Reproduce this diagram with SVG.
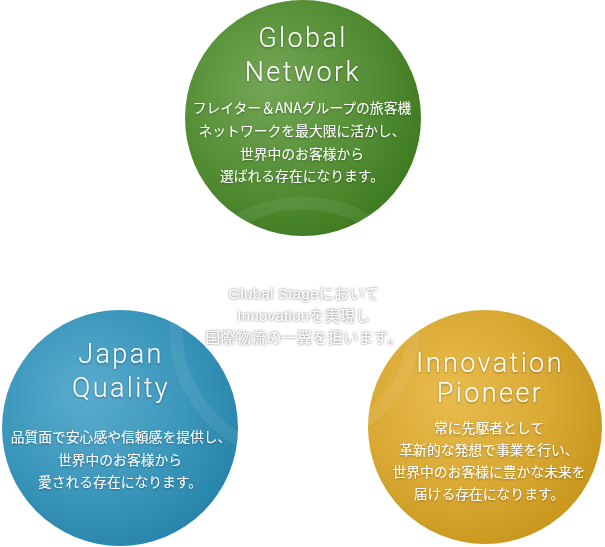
<svg xmlns="http://www.w3.org/2000/svg" width="605" height="547" viewBox="0 0 605 547">
<defs>
  <radialGradient id="gGreen" cx="0.4" cy="0.4" r="0.65" fx="0.35" fy="0.35">
    <stop offset="0" stop-color="#74a655"/>
    <stop offset="0.6" stop-color="#568f37"/>
    <stop offset="1" stop-color="#3e7a20"/>
  </radialGradient>
  <radialGradient id="gBlue" cx="0.4" cy="0.4" r="0.65" fx="0.35" fy="0.35">
    <stop offset="0" stop-color="#5aaccd"/>
    <stop offset="0.6" stop-color="#3c97bc"/>
    <stop offset="1" stop-color="#2784aa"/>
  </radialGradient>
  <radialGradient id="gGold" cx="0.4" cy="0.4" r="0.65" fx="0.35" fy="0.35">
    <stop offset="0" stop-color="#e8bc4e"/>
    <stop offset="0.6" stop-color="#d9a934"/>
    <stop offset="1" stop-color="#c8961c"/>
  </radialGradient>
  <clipPath id="cGreen"><circle cx="303" cy="118" r="118"/></clipPath>
  <clipPath id="cBlue"><circle cx="120" cy="428" r="118"/></clipPath>
  <clipPath id="cGold"><circle cx="485" cy="427" r="117"/></clipPath>
  <filter id="shadow" x="-10%" y="-20%" width="120%" height="140%">
    <feDropShadow dx="0" dy="1" stdDeviation="0.8" flood-color="#000" flood-opacity="0.35"/>
  </filter>
  <filter id="glow" x="-10%" y="-30%" width="120%" height="160%">
    <feGaussianBlur in="SourceAlpha" stdDeviation="1.2" result="b"/>
    <feFlood flood-color="#9a9a9a" flood-opacity="0.85"/>
    <feComposite in2="b" operator="in" result="g"/>
    <feMerge>
      <feMergeNode in="g"/>
      <feMergeNode in="g"/>
      <feMergeNode in="SourceGraphic"/>
    </feMerge>
  </filter>
  <style>
    .title { font-family: Roboto, "Liberation Sans", sans-serif; font-weight: 300; font-size: 27px; letter-spacing: 2.4px; fill: #ffffff; text-anchor: middle; }
    .body { font-family: "Noto Sans CJK JP", "Noto Sans", sans-serif; font-size: 13.8px; fill: #ffffff; text-anchor: middle; }
    .center { font-family: "Liberation Sans", "Noto Sans CJK JP", sans-serif; font-size: 15px; letter-spacing: 0.3px; fill: #ffffff; text-anchor: middle; }
    .ring { fill: none; stroke: #ffffff; stroke-opacity: 0.07; stroke-width: 13; }
  </style>
</defs>

<g id="center-text" filter="url(#glow)">
  <text class="center" x="304" y="299">Global Stageにおいて</text>
  <text class="center" x="304" y="321">Innovationを実現し</text>
  <text class="center" x="304" y="343">国際物流の一翼を担います。</text>
</g>

<g id="global-network">
  <circle cx="303" cy="118" r="118" fill="url(#gGreen)"/>
  <g clip-path="url(#cGreen)"><circle class="ring" cx="303" cy="330" r="127"/></g>
  <g filter="url(#shadow)">
    <text class="title" x="303" y="47">Global</text>
    <text class="title" x="303" y="81">Network</text>
    <text class="body" x="302" y="113">フレイター＆ANAグループの旅客機</text>
    <text class="body" x="302" y="136">ネットワークを最大限に活かし、</text>
    <text class="body" x="302" y="159">世界中のお客様から</text>
    <text class="body" x="302" y="181">選ばれる存在になります。</text>
  </g>
</g>

<g id="japan-quality">
  <circle cx="120" cy="428" r="118" fill="url(#gBlue)"/>
  <g clip-path="url(#cBlue)"><circle class="ring" cx="303" cy="330" r="127"/></g>
  <g filter="url(#shadow)">
    <text class="title" x="121" y="363">Japan</text>
    <text class="title" x="121" y="397">Quality</text>
    <text class="body" x="121" y="442">品質面で安心感や信頼感を提供し、</text>
    <text class="body" x="120" y="465">世界中のお客様から</text>
    <text class="body" x="120" y="487">愛される存在になります。</text>
  </g>
</g>

<g id="innovation-pioneer">
  <circle cx="485" cy="427" r="117" fill="url(#gGold)"/>
  <g clip-path="url(#cGold)"><circle class="ring" cx="303" cy="330" r="110"/></g>
  <g filter="url(#shadow)">
    <text class="title" x="490" y="372">Innovation</text>
    <text class="title" x="490" y="402">Pioneer</text>
    <text class="body" x="489" y="433">常に先駆者として</text>
    <text class="body" x="489" y="455">革新的な発想で事業を行い、</text>
    <text class="body" x="489" y="477">世界中のお客様に豊かな未来を</text>
    <text class="body" x="489" y="499">届ける存在になります。</text>
  </g>
</g>

<g id="connectors"></g>
</svg>
